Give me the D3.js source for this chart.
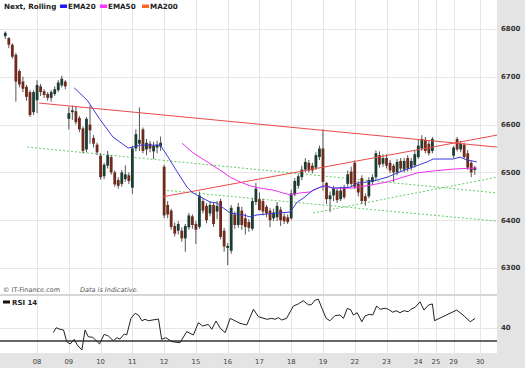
<!DOCTYPE html>
<html><head><meta charset="utf-8">
<script src="https://cdn.jsdelivr.net/npm/d3@7"></script>
<style>body{margin:0;background:#fff}svg{display:block}</style>
</head><body><svg id="c" width="525" height="368"></svg>
<script>
// ---------- DATA ----------
const title = "Next, Rolling";
const legendNames = ["EMA20", "EMA50", "MA200"];
const priceTicks = [6300, 6400, 6500, 6600, 6700, 6800];
const tickLabels = ["08","09","10","11","12","15","16","17","18","19","22","23","24","25","29","30"];
const tickSlots  = [9,18,27,36,45,54,63,72,81,90,99,108,117,122,127,134.5];
// trading sessions: start slot and number of bars
const sessionStart = [0,9,18,27,36,45,54,63,72,81,90,99,108,117,122,127];
const sessionBars  = [9,9,9,9,9,9,9,9,9,9,9,9,9,5,0,7];

const open = [6785,6781,6767,6746,6712,6690,6679,6668,6626,6651,6680,6670,6664,6656,6664,6672,6682,6690,
 6612,6626,6628,6614,6592,6548,6600,6572,6558,
 6535,6492,6514,6532,6500,6484,6476,6486,6494,
 6468,6550,6560,6590,6548,6560,6544,6552,6554,
 6512,6432,6420,6388,6378,6378,6362,6385,6408,
 6392,6386,6440,6430,6414,6432,6418,6440,6378,
 6342,6336,6412,6390,6420,6404,6396,6382,6438,
 6444,6440,6428,6420,6404,6406,6422,6408,6406,
 6404,6454,6472,6490,6506,6520,6514,6510,6532,
 6550,6478,6444,6452,6462,6444,6468,6476,6502,
 6520,6476,6488,6450,6450,6480,6490,6536,6518,
 6530,6520,6514,6500,6524,6506,6530,6510,6515,
 6532,6550,6568,6560,6545,
 6535,6570,6548,6558,6540,6520,6505];
const high = [6795,6783,6770,6750,6716,6700,6683,6672,6672,6693,6685,6674,6668,6672,6680,6693,6702,6693,
 6637,6640,6638,6618,6596,6616,6640,6578,6562,
 6540,6520,6545,6536,6504,6490,6505,6515,6500,
 6556,6590,6636,6594,6570,6566,6564,6566,6575,
 6516,6440,6424,6395,6398,6385,6392,6415,6412,
 6398,6460,6446,6436,6440,6436,6440,6445,6384,
 6352,6432,6418,6436,6428,6414,6402,6446,6478,
 6458,6445,6432,6425,6424,6438,6428,6414,6412,
 6464,6488,6496,6514,6530,6526,6520,6542,6556,
 6590,6480,6460,6472,6466,6470,6474,6504,6512,
 6525,6482,6494,6456,6490,6496,6546,6544,6538,
 6538,6526,6518,6528,6530,6530,6536,6530,6545,
 6568,6578,6574,6566,6574,
 6555,6574,6566,6562,6547,6524,6514];
const low = [6779,6760,6738,6648,6678,6668,6650,6616,6620,6624,6660,6656,6650,6648,6660,6668,6678,6674,
 6590,6610,6600,6584,6540,6542,6560,6552,6536,
 6485,6486,6508,6495,6470,6466,6470,6480,6476,
 6455,6544,6545,6540,6536,6542,6528,6540,6545,
 6404,6404,6380,6366,6370,6355,6334,6380,6382,
 6350,6382,6414,6394,6408,6386,6402,6360,6334,
 6306,6330,6382,6384,6380,6370,6376,6378,6432,
 6420,6410,6406,6385,6398,6398,6388,6392,6392,
 6400,6450,6466,6484,6500,6500,6498,6505,6526,
 6462,6434,6417,6440,6436,6440,6444,6470,6470,
 6465,6450,6434,6430,6446,6474,6484,6510,6512,
 6508,6498,6480,6494,6502,6500,6502,6504,6510,
 6528,6545,6540,6535,6540,
 6530,6544,6542,6528,6505,6490,6495];
const close = [6792,6767,6742,6690,6684,6675,6658,6620,6668,6683,6668,6662,6656,6668,6674,6688,6696,6680,
 6624,6630,6605,6590,6545,6612,6588,6560,6542,
 6490,6516,6536,6500,6475,6472,6500,6496,6482,
 6550,6580,6568,6545,6562,6550,6556,6558,6562,
 6410,6412,6386,6372,6392,6362,6388,6410,6390,
 6380,6452,6420,6400,6432,6392,6430,6365,6345,
 6346,6426,6390,6428,6390,6386,6384,6440,6466,
 6421,6418,6414,6400,6416,6430,6400,6398,6396,
 6456,6482,6492,6506,6522,6504,6504,6536,6550,
 6480,6444,6452,6466,6442,6462,6448,6496,6476,
 6470,6458,6440,6440,6484,6490,6540,6516,6530,
 6514,6504,6500,6522,6508,6524,6508,6524,6538,
 6556,6570,6545,6540,6570,
 6552,6548,6560,6532,6510,6500,6510];

const ema20Slots  = [19.5,23.2,26.9,30.5,34.8,36.2,38.2,43.9,45.8,48.7,51.5,53.2,55.2,58,60,61.7,63.7,67.4,69.3,71.3,77,80.7,82.7,84.4,87.2,89.2,90.6,92.9,97.7,99.9,102.5,105.3,108.2,111.8,115.5,119.5,121.2,126.9,128.8,130.8,133.6];
const ema20Values = [6677,6651,6610,6574,6551,6553,6557,6557,6536,6501,6469,6457,6449,6438,6436,6426,6415,6411,6407,6411,6415,6417,6438,6446,6463,6469,6472,6467,6469,6478,6480,6484,6490,6501,6511,6522,6528,6528,6532,6526,6522];
const ema50Slots  = [50.1,53.2,57.2,60.8,63.7,66.5,69.4,72.2,75.9,78.7,80.7,83.5,86.3,89.2,90.6,92.9,97.7,102.5,108.2,111.8,116.7,121.2,126.9,132.5,133.6];
const ema50Values = [6561,6541,6522,6505,6490,6480,6472,6467,6463,6457,6453,6457,6459,6469,6472,6467,6467,6472,6480,6488,6499,6503,6507,6509,6509];

const rsiSlots = [13.6,14.4,15.5,16.5,17.4,18.4,19.5,20.4,21.7,22.6,23.5,24.8,26.7,28,29.2,30.6,31.6,32.5,33.7,34.4,35.6,36.8,37.7,38.7,39.6,40.5,43.4,44.3,45.5,47.2,49.5,51.4,53.3,54.7,55.9,57.5,58.5,59.7,60.9,62.3,63.7,64.6,66.5,68.4,70.3,71.7,74.1,75.5,76.4,77.4,78.3,79.7,81.6,83,84.4,85.9,86.8,87.8,88.7,89.7,90.9,92,93.4,94.8,95.8,96.9,97.9,98.6,99.7,101,101.9,103.1,104.1,105.2,106.2,107.6,108.5,109.8,110.7,111.8,113,114.2,114.9,116.1,117.5,118.6,119.9,121,121.6,127.9,130,131.7,133.1];
const rsiValues = [36.4,40.2,39,38.5,29.5,27.7,31.3,26.9,23.1,38.5,33.3,32.8,27.7,35.1,33.8,30.2,32.5,31.5,35.4,34.6,47.4,51.3,50,45.6,46.7,45.6,46.9,31.3,32.5,29.5,28.7,37.2,34.6,44.1,41.5,42.8,39,45.4,39.8,36.4,47.4,46.2,43.6,42.3,54.4,48.7,46.7,47.4,46.7,47.9,46.2,47.4,56.9,58.5,61,57.7,58.2,61.5,62.1,55.2,47.4,45.6,49.5,50,47.4,55.2,53.8,50,51.8,44.8,49.2,50.5,50,56.9,54.4,55.2,54.4,52.1,53.3,51.8,53.3,52.5,54.4,55.9,60.2,53.8,57.7,58.5,45.6,53.8,49.2,44.8,47.4];
const rsiTicks = [40];
const rsiLevel = 30;

// trend lines drawn on the chart: [slot1, price1, slot2, price2]
const redLines   = [[9.6,6645,139.3,6553],[44.7,6449,139.3,6578]];
const greenLines = [[6.2,6553,139.3,6457],[44.7,6463,139.3,6398],[87.2,6415,139.3,6490]];

// ---------- DRAW ----------
const W = 525, H = 368, plotR = 497;
const mainTop = 0, mainBot = 294, rsiTop = 296, rsiBot = 353;
const FONT = "DejaVu Sans, Verdana, sans-serif";
const svg = d3.select("#c").style("font-family", FONT);

const x = d3.scaleLinear().domain([-1.5, 139.3]).range([0, plotR]);
const y = d3.scaleLinear().domain([6300, 6800]).range([268, 29]);
const yR = d3.scaleLinear().domain([30, 40]).range([341, 328]);

// backgrounds
svg.append("rect").attr("x",0).attr("y",0).attr("width",W).attr("height",H).attr("fill","#ffffff");
svg.append("rect").attr("x",plotR).attr("y",0).attr("width",W-plotR).attr("height",H).attr("fill","#e4e4e4");
svg.append("rect").attr("x",0).attr("y",rsiBot).attr("width",W).attr("height",H-rsiBot).attr("fill","#e4e4e4");
svg.append("rect").attr("x",0).attr("y",mainBot).attr("width",plotR).attr("height",rsiTop-mainBot).attr("fill","#d6d6d6");

// candle slots from sessions
const slots = [];
sessionStart.forEach((s,i)=>{ for(let j=0;j<sessionBars[i];j++) slots.push(s+j); });
const bars = slots.map((s,i)=>({s, o:open[i], h:high[i], l:low[i], c:close[i]}));

const grid = svg.append("g").attr("stroke","#e6e6e6").attr("stroke-width",1);
grid.selectAll(".hg").data(priceTicks).join("line")
  .attr("x1",0).attr("x2",plotR).attr("y1",d=>Math.round(y(d))+0.5).attr("y2",d=>Math.round(y(d))+0.5);
grid.selectAll(".vg").data(tickSlots).join("line")
  .attr("x1",d=>Math.round(x(d))+0.5).attr("x2",d=>Math.round(x(d))+0.5).attr("y1",mainTop).attr("y2",mainBot);
grid.selectAll(".vg2").data(tickSlots).join("line")
  .attr("x1",d=>Math.round(x(d))+0.5).attr("x2",d=>Math.round(x(d))+0.5).attr("y1",rsiTop).attr("y2",rsiBot);
grid.selectAll(".rg").data(rsiTicks).join("line")
  .attr("x1",0).attr("x2",plotR).attr("y1",d=>Math.round(yR(d))+0.5).attr("y2",d=>Math.round(yR(d))+0.5);

svg.append("clipPath").attr("id","clipM").append("rect").attr("x",0).attr("y",mainTop).attr("width",plotR).attr("height",mainBot-mainTop);
const plot = svg.append("g").attr("clip-path","url(#clipM)");

plot.selectAll(".gl").data(greenLines).join("line")
  .attr("x1",d=>x(d[0])).attr("y1",d=>y(d[1])).attr("x2",d=>x(d[2])).attr("y2",d=>y(d[3]))
  .attr("stroke","#66cc66").attr("stroke-width",1).attr("stroke-dasharray","2,2");

const upCol = "#1d3d33", dnCol = "#6e2a1c";
const cg = plot.append("g");
cg.selectAll(".wk").data(bars).join("line")
  .attr("x1",d=>x(d.s)).attr("x2",d=>x(d.s)).attr("y1",d=>y(d.h)).attr("y2",d=>y(d.l))
  .attr("stroke","#555").attr("stroke-width",1);
cg.selectAll(".bd").data(bars).join("rect")
  .attr("x",d=>x(d.s)-1.4).attr("width",2.8)
  .attr("y",d=>y(Math.max(d.o,d.c))).attr("height",d=>Math.max(1,Math.abs(y(d.o)-y(d.c))))
  .attr("fill",d=>d.c>=d.o?upCol:dnCol);

plot.selectAll(".rl").data(redLines).join("line")
  .attr("x1",d=>x(d[0])).attr("y1",d=>y(d[1])).attr("x2",d=>x(d[2])).attr("y2",d=>y(d[3]))
  .attr("stroke","#e84a4a").attr("stroke-width",1);

const lineGen = d3.line().x(d=>x(d[0])).y(d=>y(d[1]));
plot.append("path").datum(ema50Slots.map((s,i)=>[s,ema50Values[i]]))
  .attr("d",lineGen).attr("fill","none").attr("stroke","#f030f0").attr("stroke-width",1);
plot.append("path").datum(ema20Slots.map((s,i)=>[s,ema20Values[i]]))
  .attr("d",lineGen).attr("fill","none").attr("stroke","#3a3ad8").attr("stroke-width",1);

svg.selectAll(".yl").data(priceTicks).join("text")
  .attr("x",501).attr("y",d=>y(d)).attr("dy","0.35em")
  .attr("font-size",7).attr("font-weight","bold").attr("fill","#333").text(d=>d);

const lg = svg.append("g").attr("font-size",7.2).attr("font-weight","bold").attr("fill","#222");
lg.append("text").attr("x",4).attr("y",9).text(title);
const legCols = ["#1a1aff","#ff33ff","#ff6622"];
const legX = [60,100,142];
legendNames.forEach((n,i)=>{
  lg.append("rect").attr("x",legX[i]).attr("y",4.5).attr("width",7).attr("height",3.5).attr("fill",legCols[i]);
  lg.append("text").attr("x",legX[i]+8).attr("y",9).text(n);
});

svg.append("text").attr("x",3).attr("y",292).attr("font-size",6.5).attr("fill","#555").text("\u00A9 IT-Finance.com");
svg.append("text").attr("x",80).attr("y",292).attr("font-size",6.5).attr("font-style","italic").attr("fill","#555").text("Data is Indicative.");

svg.append("clipPath").attr("id","clipR").append("rect").attr("x",0).attr("y",rsiTop).attr("width",plotR).attr("height",rsiBot-rsiTop);
const rp = svg.append("g").attr("clip-path","url(#clipR)");
rp.append("line").attr("x1",0).attr("x2",plotR).attr("y1",yR(rsiLevel)).attr("y2",yR(rsiLevel))
  .attr("stroke","#333").attr("stroke-width",1.3);
rp.append("path").datum(rsiSlots.map((s,i)=>[s,rsiValues[i]]))
  .attr("d",d3.line().x(d=>x(d[0])).y(d=>yR(d[1]))).attr("fill","none").attr("stroke","#222").attr("stroke-width",1);
svg.append("rect").attr("x",3).attr("y",300.5).attr("width",7).attr("height",3).attr("fill","#111");
svg.append("text").attr("x",12).attr("y",305).attr("font-size",7).attr("font-weight","bold").attr("fill","#222").text("RSI 14");
svg.selectAll(".rl2").data(rsiTicks).join("text")
  .attr("x",501).attr("y",d=>yR(d)).attr("dy","0.35em").attr("font-size",7).attr("font-weight","bold").attr("fill","#333").text(d=>d);

svg.selectAll(".xl").data(tickSlots).join("text")
  .attr("x",d=>x(d)).attr("y",364).attr("text-anchor","middle")
  .attr("font-size",6.8).attr("fill","#444").text((d,i)=>tickLabels[i]);
</script></body></html>
